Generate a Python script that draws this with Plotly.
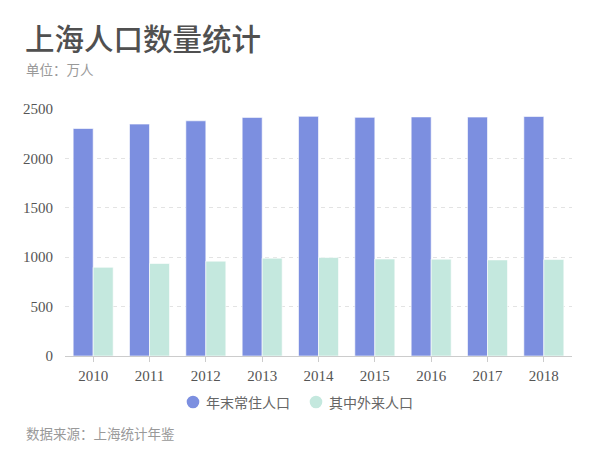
import plotly.graph_objects as go

years = ["2010", "2011", "2012", "2013", "2014", "2015", "2016", "2017", "2018"]
resident = [2302.66, 2347.46, 2380.43, 2415.15, 2425.68, 2415.27, 2419.70, 2418.33, 2423.78]
migrant = [897.70, 935.96, 960.24, 990.01, 996.42, 981.65, 980.20, 972.68, 976.21]
series_names = ["年末常住人口", "其中外来人口"]
colors = ["#7c8fe0", "#c4e8de"]
title_text = "上海人口数量统计"
subtitle_text = "单位：万人"
source_text = "数据来源：上海统计年鉴"
y_ticks = [0, 500, 1000, 1500, 2000, 2500]

FONT = "Liberation Serif, Noto Sans CJK SC"
CJK = "Noto Sans CJK SC"
W, H = 600, 466
ML, MR, MT, MB = 65, 28, 109, 110
PW = W - ML - MR
PH = H - MT - MB

def px(x):
    return (x - ML) / PW

def py(y):
    return (H - MB - y) / PH

fig = go.Figure()
for name, vals, col in zip(series_names, [resident, migrant], colors):
    fig.add_trace(go.Bar(
        x=years, y=vals, name=name, showlegend=False,
        marker=dict(color=col, line=dict(color="rgba(255,255,255,0.6)", width=1)),
    ))

# manual legend
legend_pos = [(193, 204), (316, 327)]
shapes = []
annotations = []
for (cx, tx), name, col in zip(legend_pos, series_names, colors):
    shapes.append(dict(type="circle", xref="paper", yref="paper",
                       xsizemode="pixel", ysizemode="pixel",
                       xanchor=px(cx), yanchor=py(402),
                       x0=-6.3, x1=6.3, y0=-6.3, y1=6.3,
                       fillcolor=col, line=dict(width=0)))
    annotations.append(dict(text=name, xref="paper", yref="paper",
                            x=px(tx), y=py(402), xanchor="left", yanchor="middle",
                            showarrow=False, font=dict(family=CJK, size=14, color="#666")))

annotations.append(dict(text=title_text, xref="paper", yref="paper",
                        x=px(23), y=py(37), xanchor="left", yanchor="middle",
                        showarrow=False, font=dict(family=CJK, size=29.5, color="#505050", weight=500)))
annotations.append(dict(text=subtitle_text, xref="paper", yref="paper",
                        x=px(24), y=py(69), xanchor="left", yanchor="middle",
                        showarrow=False, font=dict(family=CJK, size=13.5, color="#999")))
annotations.append(dict(text=source_text, xref="paper", yref="paper",
                        x=px(24), y=py(433), xanchor="left", yanchor="middle",
                        showarrow=False, font=dict(family=CJK, size=13.5, color="#999")))

fig.update_layout(
    width=W, height=H,
    margin=dict(l=ML, r=MR, t=MT, b=MB),
    paper_bgcolor="white", plot_bgcolor="white",
    barmode="group", bargap=0.29, bargroupgap=0,
    font=dict(family=FONT, size=13, color="#666"),
    shapes=shapes, annotations=annotations,
    showlegend=False,
)
fig.update_xaxes(
    showline=True, linecolor="#cccccc", linewidth=1,
    ticks="outside", ticklen=5, tickcolor="#cccccc",
    showgrid=False, tickfont=dict(family=FONT, size=15, color="#555"),
    ticklabelstandoff=1,
)
fig.update_yaxes(
    range=[0, 2500], tickvals=y_ticks,
    showgrid=True, gridcolor="#e3e3e3", griddash="4px,4px", gridwidth=1,
    zeroline=False, showline=False, ticks="",
    tickfont=dict(family=FONT, size=15, color="#555"),
    ticklabelstandoff=11,
)

fig.write_html("out.html", config={"displayModeBar": False},
               post_script="document.body.style.margin='0';document.body.style.padding='0';")
